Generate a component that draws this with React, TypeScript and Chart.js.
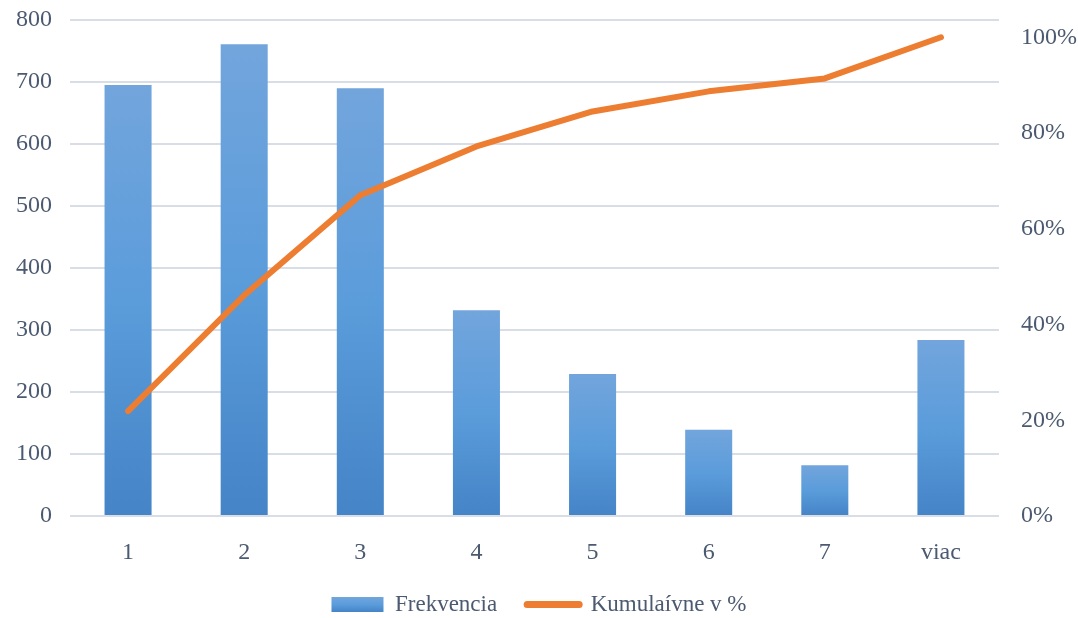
import React, { useEffect, useRef } from "react";
import { Chart, registerables } from "chart.js";

Chart.register(...registerables);

// Frequency histogram with cumulative percentage (Pareto style)
const categories = ["1", "2", "3", "4", "5", "6", "7", "viac"];
const frekvencia = [695, 761, 690, 332, 229, 139, 82, 284];
const kumulativne = [0.219, 0.461, 0.67, 0.772, 0.845, 0.887, 0.914, 1.0];
const leftTicks = [0, 100, 200, 300, 400, 500, 600, 700, 800];
const rightTicks = [0, 0.2, 0.4, 0.6, 0.8, 1.0];

const TEXT = "#4b5a70";
const GRID = "#d9dde5";
const ORANGE = "#ed7d31";
const FONT = "'Liberation Serif', 'Times New Roman', serif";

function barGradient(ctx: CanvasRenderingContext2D, top: number, bottom: number) {
  const g = ctx.createLinearGradient(0, top, 0, bottom);
  g.addColorStop(0, "#72a5dc");
  g.addColorStop(0.5, "#5b9cdb");
  g.addColorStop(1, "#4484c7");
  return g;
}

export default function App() {
  const canvasRef = useRef<HTMLCanvasElement | null>(null);

  useEffect(() => {
    const canvas = canvasRef.current;
    if (!canvas) return;
    const chart = new Chart(canvas, {
      type: "bar",
      data: {
        labels: categories,
        datasets: [
          {
            type: "line",
            label: "Kumulaívne v %",
            data: kumulativne,
            yAxisID: "y1",
            borderColor: ORANGE,
            backgroundColor: ORANGE,
            borderWidth: 6,
            borderCapStyle: "round",
            borderJoinStyle: "round",
            pointRadius: 0,
            pointHoverRadius: 0,
            tension: 0,
            order: 0,
          },
          {
            type: "bar",
            label: "Frekvencia",
            data: frekvencia,
            yAxisID: "y",
            order: 1,
            barPercentage: 0.405,
            categoryPercentage: 1,
            backgroundColor: (c: any) => {
              const ch = c.chart;
              const ys = ch.scales && ch.scales.y;
              if (!ys || c.raw == null) return "#5b9bd5";
              const top = ys.getPixelForValue(c.raw);
              const base = ys.getPixelForValue(0);
              if (!isFinite(top) || !isFinite(base) || top === base) return "#5b9bd5";
              return barGradient(ch.ctx, top, base);
            },
          },
        ],
      },
      options: {
        animation: false,
        responsive: true,
        maintainAspectRatio: false,
        layout: { padding: { top: 20, bottom: -8, left: 0, right: 0 } },
        plugins: {
          tooltip: { enabled: false },
          legend: {
            position: "bottom",
            labels: {
              font: { family: FONT, size: 23 },
              color: TEXT,
              usePointStyle: true,
              pointStyleWidth: 52,
              boxHeight: 15,
              padding: 30,
              generateLabels: (ch: any) => {
                const h = ch.height;
                return [
                  {
                    text: "Frekvencia",
                    fillStyle: barGradient(ch.ctx, h - 21, h - 6),
                    strokeStyle: "rgba(0,0,0,0)",
                    lineWidth: 0,
                    pointStyle: "rect",
                    fontColor: TEXT,
                    datasetIndex: 1,
                    hidden: false,
                  },
                  {
                    text: "Kumulaívne v %",
                    fillStyle: ORANGE,
                    strokeStyle: ORANGE,
                    lineWidth: 7,
                    lineCap: "round",
                    pointStyle: "line",
                    fontColor: TEXT,
                    datasetIndex: 0,
                    hidden: false,
                  },
                ];
              },
            },
          },
        },
        scales: {
          x: {
            grid: { display: false, drawTicks: false },
            border: { display: false },
            ticks: {
              font: { family: FONT, size: 24 },
              color: TEXT,
              padding: 22,
            },
            afterFit: (s: any) => {
              s.height = 47;
            },
          },
          y: {
            position: "left",
            min: 0,
            max: 800,
            grid: { color: GRID, lineWidth: 2, drawTicks: false },
            border: { display: false },
            afterBuildTicks: (s: any) => {
              s.ticks = leftTicks.map((v) => ({ value: v }));
            },
            ticks: {
              font: { family: FONT, size: 24 },
              color: TEXT,
              padding: 18,
            },
            afterFit: (s: any) => {
              s.width = 70;
              s.paddingTop = 0;
              s.paddingBottom = 0;
            },
          },
          y1: {
            position: "right",
            min: 0,
            max: 1.036,
            grid: { display: false, drawTicks: false },
            border: { display: false },
            afterBuildTicks: (s: any) => {
              s.ticks = rightTicks.map((v) => ({ value: v }));
            },
            ticks: {
              font: { family: FONT, size: 24 },
              color: TEXT,
              padding: 22,
              callback: (v: any) => Math.round(Number(v) * 100) + "%",
            },
            afterFit: (s: any) => {
              s.width = 79;
              s.paddingTop = 0;
              s.paddingBottom = 0;
            },
          },
        },
      },
    });
    return () => chart.destroy();
  }, []);

  return (
    <div
      style={{
        position: "fixed",
        left: 0,
        top: 0,
        width: 1078,
        height: 618,
        background: "#ffffff",
      }}
    >
      <canvas ref={canvasRef} />
    </div>
  );
}
